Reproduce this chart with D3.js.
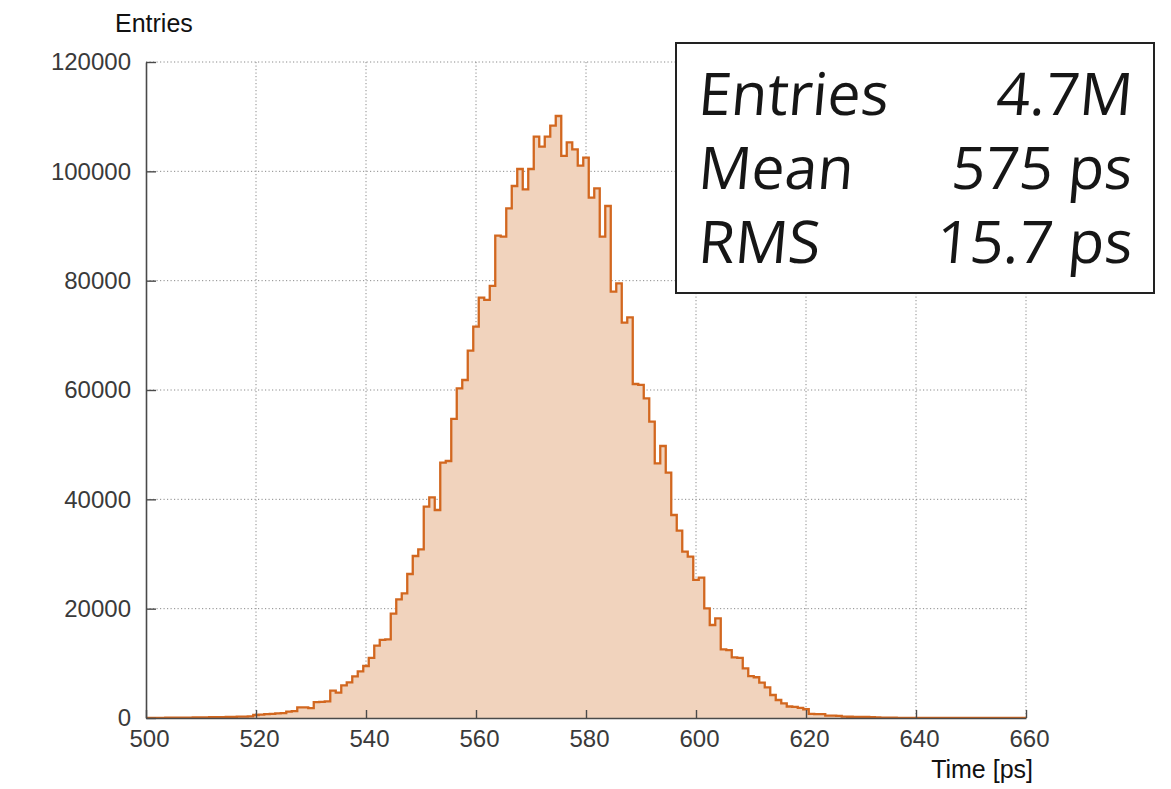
<!DOCTYPE html>
<html>
<head>
<meta charset="utf-8">
<script src="https://cdn.jsdelivr.net/npm/d3@7"></script>
<style>
  html, body { margin: 0; padding: 0; background: #ffffff; }
  svg { display: block; }
</style>
</head>
<body>
<svg id="chart" width="1171" height="789"></svg>
<script>
// Time-of-flight histogram: 1 ps bins centred on integer times
const binCenters = d3.range(500, 661);          // ps
const counts = [
  30, 30, 40, 40, 50, 50, 60, 60, 70, 100,                              // 500-509
  110, 120, 140, 150, 160, 180, 220, 240, 260, 280,                     // 510-519
  550, 600, 700, 750, 850, 900, 1150, 1250, 1950, 1950,                 // 520-529
  1800, 2900, 2950, 3050, 5000, 4630, 5950, 6500, 7620, 8540,           // 530-539
  9510, 11000, 13250, 14300, 14400, 19100, 21710, 22810, 26340, 29630,  // 540-549
  30850, 38660, 40370, 38050, 46710, 47010, 54700, 60310, 61830, 67190, // 550-559
  71580, 76900, 76470, 79030, 88230, 88050, 93240, 97320, 100430, 96710,       // 560-569
  100430, 106340, 104510, 106340, 108350, 110120, 102810, 105310, 104030, 101040, // 570-579
  102500, 95180, 96890, 88050, 93660, 77990, 79510, 72320, 73300, 61100, // 580-589
  60920, 58480, 54210, 46590, 49760, 44880, 37130, 34270, 30430, 29510,  // 590-599
  25250, 25670, 20060, 17010, 18230, 12560, 12400, 11100, 11000, 9090,   // 600-609
  7650, 7450, 6460, 5610, 4210, 3290, 2680, 2100, 2050, 1850,           // 610-619
  1600, 750, 720, 700, 450, 420, 400, 250, 230, 220,                    // 620-629
  200, 180, 150, 100, 80, 60, 50, 40, 30, 30,                           // 630-639
  20, 20, 15, 15, 10, 10, 10, 10, 5, 5,                                 // 640-649
  5, 5, 5, 5, 5, 5, 5, 5, 5, 5, 5                                       // 650-660
];
const xTicks = [500, 520, 540, 560, 580, 600, 620, 640, 660];
const yTicks = [0, 20000, 40000, 60000, 80000, 100000, 120000];
const statLabels = ["Entries", "Mean", "RMS"];
const statValues = ["4.7M", "575 ps", "15.7 ps"];

const svg = d3.select("#chart");
const frame = { left: 146, right: 1026, top: 62, bottom: 718 };

const x = d3.scaleLinear().domain([500, 660]).range([frame.left, frame.right]);
const y = d3.scaleLinear().domain([0, 120000]).range([frame.bottom, frame.top]);

// clip to the plotting frame
svg.append("defs").append("clipPath").attr("id", "plotClip")
  .append("rect").attr("x", frame.left).attr("y", frame.top - 5)
  .attr("width", frame.right - frame.left).attr("height", frame.bottom - frame.top + 10);

// dotted grid
const grid = svg.append("g").attr("stroke", "#8a8a8a").attr("stroke-width", 1)
  .attr("stroke-dasharray", "1.2,2.3");
grid.selectAll("line.v").data(xTicks.filter(d => d > 500)).join("line")
  .attr("x1", d => x(d)).attr("x2", d => x(d)).attr("y1", frame.top).attr("y2", frame.bottom);
grid.selectAll("line.h").data(yTicks.filter(d => d > 0)).join("line")
  .attr("y1", d => y(d)).attr("y2", d => y(d)).attr("x1", frame.left).attr("x2", frame.right);

// step histogram: each bin spans [c - 0.5, c + 0.5]
const steps = binCenters.map((c, i) => ({ t: c - 0.5, v: counts[i] }));
steps.push({ t: binCenters[binCenters.length - 1] + 0.5, v: counts[counts.length - 1] });

const hist = svg.append("g").attr("clip-path", "url(#plotClip)");
hist.append("path").datum(steps)
  .attr("fill", "#f1d3bd")
  .attr("d", d3.area().curve(d3.curveStepAfter)
    .x(d => x(d.t)).y0(y(0)).y1(d => y(d.v)));

// axes
const fontTick = "'Liberation Sans', Arial, Helvetica, sans-serif";
const yAxis = svg.append("g").attr("transform", `translate(${frame.left},0)`)
  .call(d3.axisLeft(y).tickValues(yTicks).tickFormat(d3.format("d"))
    .tickSizeInner(-10).tickSizeOuter(0).tickPadding(15));
const xAxis = svg.append("g").attr("transform", `translate(0,${frame.bottom})`)
  .call(d3.axisBottom(x).tickValues(xTicks).tickFormat(d3.format("d"))
    .tickSizeInner(-8).tickSizeOuter(0).tickPadding(12));
[yAxis, xAxis].forEach(g => {
  g.select(".domain").attr("stroke", "#4a4a4a").attr("stroke-width", 1.6);
  g.selectAll(".tick line").attr("stroke", "#4a4a4a").attr("stroke-width", 1.4);
  g.selectAll(".tick text").attr("fill", "#3a3a3a")
    .style("font-family", fontTick).style("font-size", "24px");
});
xAxis.selectAll(".tick text").attr("dx", 3);

// histogram outline on top of the axis
hist.append("path").datum(steps)
  .attr("fill", "none").attr("stroke", "#d2671f").attr("stroke-width", 2.3)
  .attr("stroke-linejoin", "miter")
  .attr("d", d3.line().curve(d3.curveStepAfter).x(d => x(d.t)).y(d => y(d.v)));

// axis titles
svg.append("text").attr("x", 115).attr("y", 32)
  .style("font-family", fontTick).style("font-size", "25px").attr("fill", "#111")
  .text("Entries");
svg.append("text").attr("x", 1033).attr("y", 778).attr("text-anchor", "end")
  .style("font-family", fontTick).style("font-size", "25px").attr("fill", "#111")
  .text("Time [ps]");

// statistics box (slightly slanted lettering)
const box = svg.append("g");
box.append("rect").attr("x", 676).attr("y", 43).attr("width", 478).attr("height", 250)
  .attr("fill", "#ffffff").attr("stroke", "#222").attr("stroke-width", 2);
const rowY = [115, 189, 263];
const statFont = "'Open Sans', 'Noto Sans', sans-serif";
const slant = -5;
box.selectAll("text.lab").data(statLabels).join("text").attr("class", "lab")
  .attr("transform", (d, i) => `translate(697,${rowY[i]}) skewX(${slant})`)
  .style("font-family", statFont).style("font-size", "59px").style("font-weight", 400)
  .attr("fill", "#161616")
  .text(d => d);
box.selectAll("text.val").data(statValues).join("text").attr("class", "val")
  .attr("transform", (d, i) => `translate(1131,${rowY[i]}) skewX(${slant})`)
  .attr("text-anchor", "end")
  .style("font-family", statFont).style("font-size", "59px").style("font-weight", 400)
  .attr("fill", "#161616")
  .text(d => d);
</script>
</body>
</html>
